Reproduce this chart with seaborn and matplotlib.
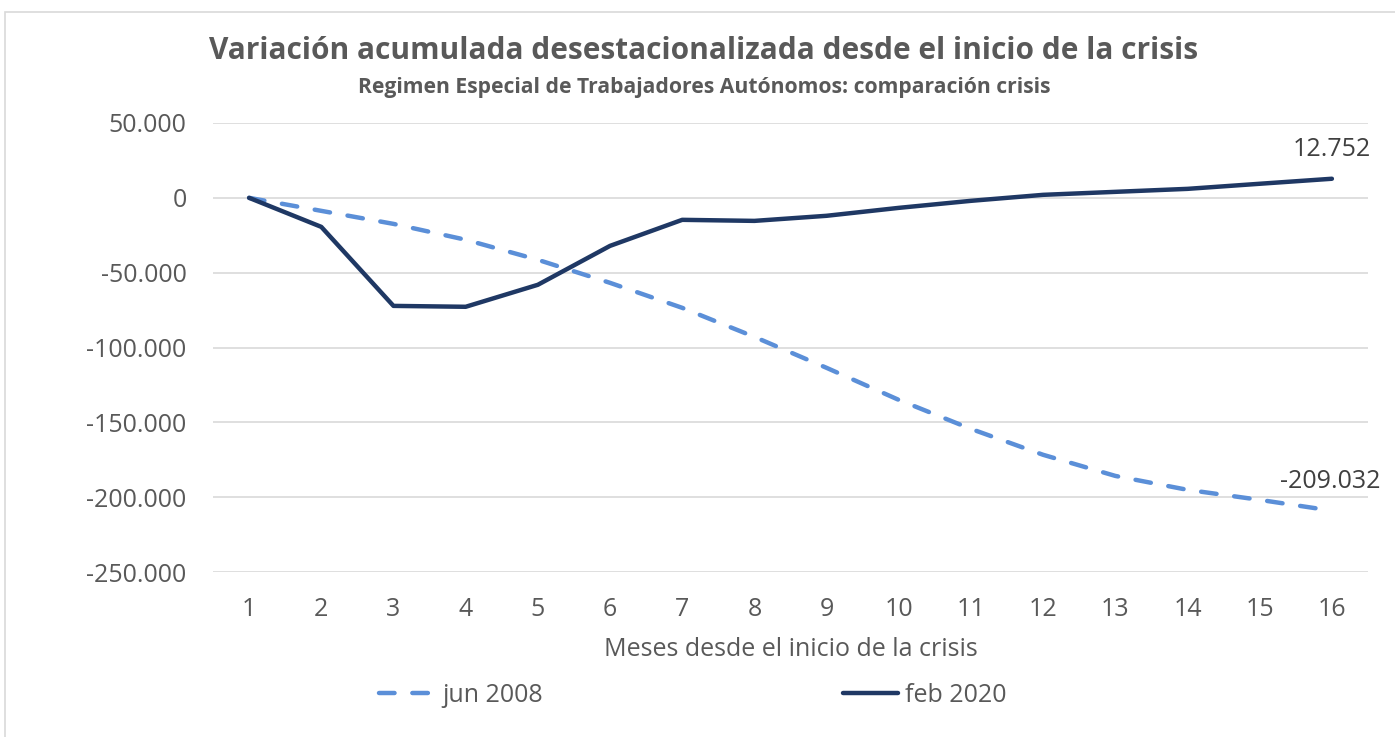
import matplotlib
matplotlib.use("Agg")
import matplotlib.pyplot as plt
import matplotlib.ticker as mticker
from matplotlib.patches import Rectangle
import pandas as pd
import seaborn as sns

# datos
meses = list(range(1, 17))
jun_2008 = [0, -8700, -17400, -28000, -41400, -56800, -73500, -92900,
            -113600, -135000, -154400, -171700, -185800, -195100, -201800, -209032]
feb_2020 = [0, -19400, -72200, -72800, -58100, -32100, -14700, -15400,
            -12000, -6700, -2000, 2000, 4000, 6000, 9400, 12752]
series = ["jun 2008", "feb 2020"]

df = pd.DataFrame({
    "mes": meses * 2,
    "valor": jun_2008 + feb_2020,
    "serie": [series[0]] * 16 + [series[1]] * 16,
})

sns.set_style("white")
plt.rcParams["font.family"] = ["Open Sans", "DejaVu Sans"]

gris = "#595959"
azul_claro = "#5B8FD8"
azul_osc = "#1F3864"
dash = (3.5, 4.0)

fig = plt.figure(figsize=(13.95, 7.37), dpi=100)
ax = fig.add_axes([213 / 1395, 1 - 572 / 737, (1368 - 213) / 1395, (572 - 123) / 737])

sns.lineplot(data=df, x="mes", y="valor", hue="serie", style="serie",
             palette={"jun 2008": azul_claro, "feb 2020": azul_osc},
             dashes={"jun 2008": dash, "feb 2020": ""},
             linewidth=3.2, ax=ax, legend=False)
for l in ax.lines:
    l.set_solid_capstyle("round")
    l.set_dash_capstyle("round")

ax.set_xlim(0.5, 16.5)
ax.set_ylim(-250000, 50000)
ax.set_xticks(meses)
ax.set_yticks(range(-250000, 50001, 50000))
ax.yaxis.set_major_formatter(mticker.FuncFormatter(
    lambda v, p: f"{int(v):,}".replace(",", ".")))
ax.grid(axis="y", color="#D9D9D9", linewidth=1.2)
ax.set_axisbelow(True)
for s in ax.spines.values():
    s.set_visible(False)
ax.tick_params(axis="both", length=0, labelsize=18, labelcolor=gris)
ax.tick_params(axis="x", pad=18)
ax.tick_params(axis="y", pad=19)
ax.set_xlabel("Meses desde el inicio de la crisis", fontsize=18, color=gris, labelpad=11)
ax.set_ylabel("")

# etiquetas de datos
ax.annotate(f"{feb_2020[-1]:,}".replace(",", "."), (meses[-1], feb_2020[-1]),
            xytext=(0, 12), textcoords="offset points", ha="center", va="bottom",
            fontsize=18, color="#404040")
ax.annotate(f"{jun_2008[-1]:,}".replace(",", "."), (meses[-1], jun_2008[-1]),
            xytext=(-1, 12), textcoords="offset points", ha="center", va="bottom",
            fontsize=18, color="#404040")

fig.text(704 / 1395, 1 - 51 / 737, "Variación acumulada desestacionalizada desde el inicio de la crisis",
         ha="center", va="center", fontsize=21.5, fontweight="bold", color=gris)
fig.text(704 / 1395, 1 - 87 / 737, "Regimen Especial de Trabajadores Autónomos: comparación crisis",
         ha="center", va="center", fontsize=15.2, fontweight="bold", color=gris)

# leyenda
handles = [plt.Line2D([], [], color=azul_claro, linewidth=3.2, linestyle=(0, dash),
                      dash_capstyle="round"),
           plt.Line2D([], [], color=azul_osc, linewidth=3.2)]
fig.legend(handles, series, loc="center", bbox_to_anchor=(693 / 1395, 1 - 695 / 737),
           ncol=2, frameon=False, fontsize=18, handlelength=2.2, handletextpad=0.3,
           columnspacing=12, labelcolor=gris)

fig.patches.append(Rectangle((5 / 1395, -0.05), 1.1, 1 - 12 / 737 + 0.05,
                             transform=fig.transFigure, fill=False,
                             edgecolor="#D9D9D9", linewidth=1.2))

fig.savefig("out.png", dpi=100)
